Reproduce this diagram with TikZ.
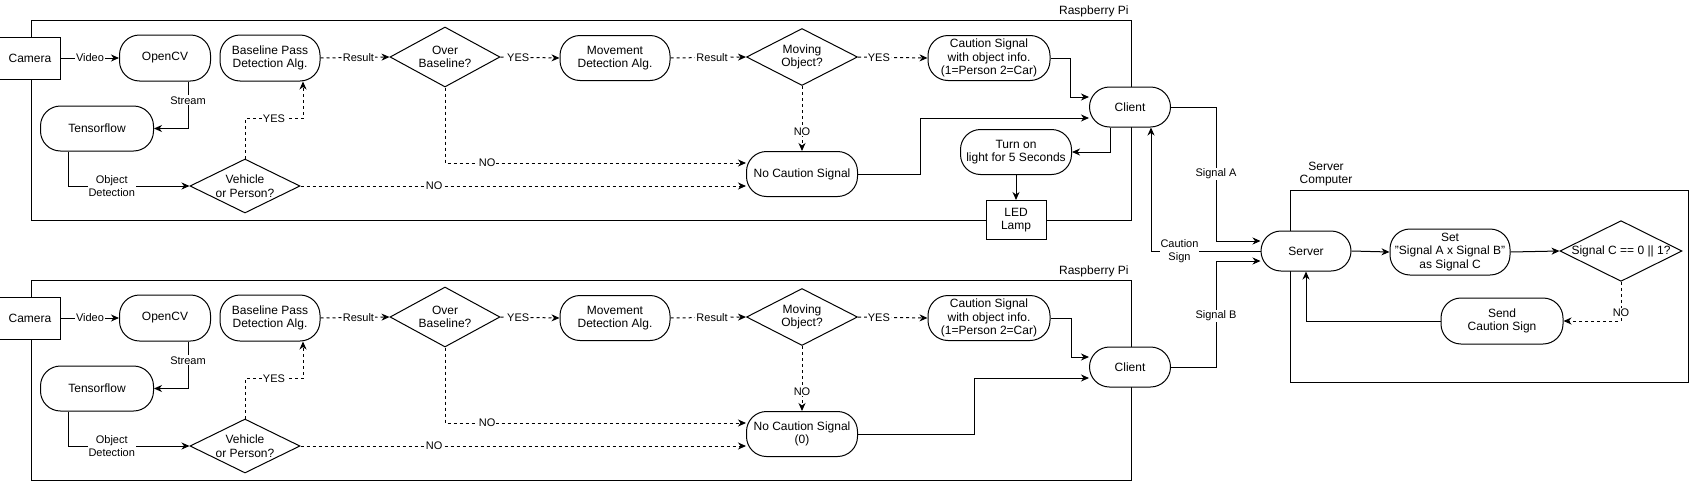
\documentclass[tikz,border=0pt]{standalone}
\usepackage{fontspec}
\setmainfont{Liberation Sans}
\usepackage{tikz}
\usetikzlibrary{shapes.geometric, calc}
\usetikzlibrary{arrows.meta}
\tikzset{>={Stealth[width=7pt,length=8pt,inset=2.5pt]}}

\begin{document}
\begin{tikzpicture}[x=1pt, y=-1pt, line width=1pt,
    procnode/.style={draw, fill=white, rounded corners=20pt, inner sep=0pt, align=center, font=\fontsize{12}{13.5}\selectfont},
    boxnode/.style={draw, fill=white, inner sep=0pt, align=center, font=\fontsize{12}{13.5}\selectfont},
    decision/.style={diamond, draw, fill=white, inner sep=0pt, align=center, font=\fontsize{12}{13.5}\selectfont},
    edgetext/.style={fill=white, inner sep=1pt, align=center, font=\fontsize{11}{12.5}\selectfont},
    grouptext/.style={inner sep=0pt, align=center, font=\fontsize{12}{13.5}\selectfont}]

    \useasboundingbox (0,0) rectangle (1691,482);

    %Boxes
    \draw (31,20) rectangle (1131,220);
    \draw (31,280) rectangle (1131,480);
    \draw (1290,190) rectangle (1688,382);
    \node[grouptext, anchor=east](rpi_a) at (1129,11){Raspberry Pi};
    \node[grouptext, anchor=east](rpi_b) at (1129,271){Raspberry Pi};
    \node[grouptext](servercomp) at (1326,174){Server\\Computer};

    %Nodes (upper Raspberry Pi)
    \node[boxnode, minimum width=61pt, minimum height=42pt](camera_a) at (30,58){Camera};
    \node[procnode, minimum width=91pt, minimum height=46pt](opencv_a) at (165,58){OpenCV};
    \node[procnode, minimum width=100pt, minimum height=46pt](baseline_a) at (270,58){Baseline Pass\\Detection Alg.};
    \node[decision, minimum width=110pt, minimum height=60pt, aspect=1.8](over_a) at (445,57){Over\\Baseline?};
    \node[procnode, minimum width=110pt, minimum height=45pt](movement_a) at (615,58){Movement\\Detection Alg.};
    \node[decision, minimum width=111pt, minimum height=57pt, aspect=1.9](moving_a) at (802,57){Moving\\Object?};
    \node[procnode, minimum width=122pt, minimum height=45pt](caution_a) at (989,58){Caution Signal\\with object info.\\(1=Person 2=Car)};
    \node[procnode, minimum width=113pt, minimum height=45pt](tensorflow_a) at (97,128.5){Tensorflow};
    \node[decision, minimum width=110pt, minimum height=54pt, aspect=2](vehicle_a) at (245,186){Vehicle\\or Person?};
    \node[procnode, minimum width=111pt, minimum height=45pt](nocaution_a) at (802,174){No Caution Signal};
    \node[procnode, minimum width=81pt, minimum height=40pt](client_a) at (1130,107){Client};
    \node[procnode, minimum width=111pt, minimum height=45pt](turnon_a) at (1016,152){Turn on\\light for 5 Seconds};
    \node[boxnode, minimum width=60pt, minimum height=39pt](led_a) at (1016,220){LED\\Lamp};

    %Nodes (lower Raspberry Pi)
    \node[boxnode, minimum width=61pt, minimum height=42pt](camera_b) at (30,318){Camera};
    \node[procnode, minimum width=91pt, minimum height=46pt](opencv_b) at (165,318){OpenCV};
    \node[procnode, minimum width=100pt, minimum height=46pt](baseline_b) at (270,318){Baseline Pass\\Detection Alg.};
    \node[decision, minimum width=110pt, minimum height=60pt, aspect=1.8](over_b) at (445,317){Over\\Baseline?};
    \node[procnode, minimum width=110pt, minimum height=45pt](movement_b) at (615,318){Movement\\Detection Alg.};
    \node[decision, minimum width=111pt, minimum height=57pt, aspect=1.9](moving_b) at (802,317){Moving\\Object?};
    \node[procnode, minimum width=122pt, minimum height=45pt](caution_b) at (989,318){Caution Signal\\with object info.\\(1=Person 2=Car)};
    \node[procnode, minimum width=113pt, minimum height=45pt](tensorflow_b) at (97,388.5){Tensorflow};
    \node[decision, minimum width=110pt, minimum height=54pt, aspect=2](vehicle_b) at (245,446){Vehicle\\or Person?};
    \node[procnode, minimum width=111pt, minimum height=45pt](nocaution_b) at (802,434){No Caution Signal\\(0)};
    \node[procnode, minimum width=81pt, minimum height=40pt](client_b) at (1130,367){Client};

    %Nodes (server)
    \node[procnode, minimum width=90pt, minimum height=40pt](server) at (1306,251){Server};
    \node[procnode, minimum width=120pt, minimum height=46pt](setc) at (1450,252){Set\\"Signal A x Signal B"\\as Signal C};
    \node[decision, minimum width=122pt, minimum height=60pt, aspect=2](check) at (1621,251){Signal C == 0 || 1?};
    \node[procnode, minimum width=122pt, minimum height=46pt](send) at (1502,321){Send\\Caution Sign};

    %Lines (upper)
    \draw[->] (camera_a.east) -- node[edgetext]{Video} (opencv_a.west);
    \draw[->] ([xshift=23pt]opencv_a.south) |- node[edgetext, pos=0.2]{Stream} (tensorflow_a.east);
    \draw[->] ([xshift=-29pt]tensorflow_a.south) |- node[edgetext, pos=0.68]{Object\\Detection} (vehicle_a.west);
    \draw[->, dashed] (vehicle_a.north) -- ++(0,-40) -| node[edgetext, pos=0.25]{YES} ([xshift=33pt]baseline_a.south);
    \draw[->, dashed] (baseline_a.east) -- node[edgetext, pos=0.55]{Result} (over_a.west);
    \draw[->, dashed] (over_a.east) -- node[edgetext, pos=0.3]{YES} (movement_a.west);
    \draw[->, dashed] (movement_a.east) -- node[edgetext, pos=0.55]{Result} (moving_a.west);
    \draw[->, dashed] (moving_a.east) -- node[edgetext, pos=0.3]{YES} (caution_a.west);
    \draw[->, dashed] (moving_a.south) -- node[edgetext, pos=0.7]{NO} (nocaution_a.north);
    \draw[->, dashed] (over_a.south) |- node[edgetext, pos=0.57]{NO} ([yshift=11pt]nocaution_a.west);
    \draw[->, dashed] (vehicle_a.east) -- node[edgetext, pos=0.3]{NO} (vehicle_a.east -| nocaution_a.west);
    \draw[->] (caution_a.east) -- ++(20,0) |- ([yshift=10pt]client_a.west);
    \draw[->] (nocaution_a.east) -- ++(62,0) |- ([yshift=-11pt]client_a.west);
    \draw[->] ([xshift=-20pt]client_a.south) |- (turnon_a.east);
    \draw[->] (turnon_a.south) -- (led_a.north);

    %Lines (lower)
    \draw[->] (camera_b.east) -- node[edgetext]{Video} (opencv_b.west);
    \draw[->] ([xshift=23pt]opencv_b.south) |- node[edgetext, pos=0.2]{Stream} (tensorflow_b.east);
    \draw[->] ([xshift=-29pt]tensorflow_b.south) |- node[edgetext, pos=0.68]{Object\\Detection} (vehicle_b.west);
    \draw[->, dashed] (vehicle_b.north) -- ++(0,-40) -| node[edgetext, pos=0.25]{YES} ([xshift=33pt]baseline_b.south);
    \draw[->, dashed] (baseline_b.east) -- node[edgetext, pos=0.55]{Result} (over_b.west);
    \draw[->, dashed] (over_b.east) -- node[edgetext, pos=0.3]{YES} (movement_b.west);
    \draw[->, dashed] (movement_b.east) -- node[edgetext, pos=0.55]{Result} (moving_b.west);
    \draw[->, dashed] (moving_b.east) -- node[edgetext, pos=0.3]{YES} (caution_b.west);
    \draw[->, dashed] (moving_b.south) -- node[edgetext, pos=0.7]{NO} (nocaution_b.north);
    \draw[->, dashed] (over_b.south) |- node[edgetext, pos=0.57]{NO} ([yshift=11pt]nocaution_b.west);
    \draw[->, dashed] (vehicle_b.east) -- node[edgetext, pos=0.3]{NO} (vehicle_b.east -| nocaution_b.west);
    \draw[->] (caution_b.east) -- ++(21,0) |- ([yshift=10pt]client_b.west);
    \draw[->] (nocaution_b.east) -- ++(116,0) |- ([yshift=-11pt]client_b.west);

    %Lines (server)
    \draw[->] (client_a.east) -- ++(45,0) |- node[edgetext, pos=0.25]{Signal A} ([yshift=10pt]server.west);
    \draw[->] (client_b.east) -- ++(45,0) |- node[edgetext, pos=0.24]{Signal B} ([yshift=-10pt]server.west);
    \draw[->] (server.west) -| node[edgetext, pos=0.37]{Caution\\Sign} ([xshift=21pt]client_a.south);
    \draw[->] (server.east) -- (setc.west);
    \draw[->] (setc.east) -- (check.west);
    \draw[->, dashed] (check.south) |- node[edgetext, pos=0.4]{NO} (send.east);
    \draw[->] (send.west) -| (server.south);

\end{tikzpicture}
\end{document}
